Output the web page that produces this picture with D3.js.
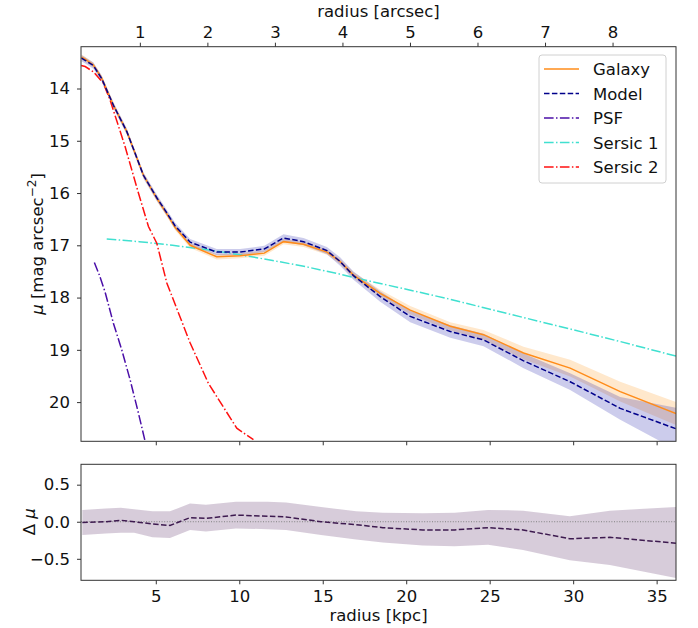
<!DOCTYPE html>
<html>
<head>
<meta charset="utf-8">
<script src="https://cdn.jsdelivr.net/npm/d3@7"></script>
<style>
  body { margin: 0; background: #fff; }
  text { font-family: "DejaVu Sans", sans-serif; }
</style>
</head>
<body>
<svg id="chart" width="698" height="628"></svg>
<script>
// radius grid of the galaxy / model profiles [kpc]
const radii     = [0.55, 0.77, 1.26, 1.76, 2.46, 3.26, 4.26, 5.06, 5.66, 6.16, 7.06, 8.65, 10.05, 11.5, 12.65, 13.85, 15.25, 16.04, 16.84, 18.44, 20.24, 22.64, 24.63, 27.03, 29.82, 32.82, 36.16];
const galaxyMu  = [13.40, 13.44, 13.55, 13.80, 14.32, 14.82, 15.66, 16.10, 16.40, 16.66, 17.00, 17.22, 17.20, 17.15, 16.93, 16.98, 17.13, 17.31, 17.57, 17.92, 18.24, 18.55, 18.71, 19.06, 19.35, 19.80, 20.22];
const galaxyErr = [0.05, 0.05, 0.05, 0.05, 0.05, 0.05, 0.05, 0.05, 0.05, 0.05, 0.05, 0.05, 0.05, 0.05, 0.05, 0.05, 0.05, 0.05, 0.06, 0.07, 0.08, 0.08, 0.09, 0.12, 0.16, 0.19, 0.22];
const modelMu   = [13.42, 13.46, 13.56, 13.81, 14.32, 14.82, 15.66, 16.09, 16.38, 16.63, 16.94, 17.13, 17.13, 17.07, 16.86, 16.93, 17.10, 17.31, 17.58, 17.98, 18.36, 18.65, 18.81, 19.21, 19.61, 20.12, 20.51];
const modelErr  = [0.06, 0.06, 0.06, 0.06, 0.06, 0.06, 0.06, 0.06, 0.06, 0.06, 0.06, 0.06, 0.06, 0.06, 0.07, 0.07, 0.07, 0.08, 0.08, 0.10, 0.11, 0.12, 0.12, 0.14, 0.16, 0.22, 0.40];

// components
const psfR      = [1.32, 1.62, 1.96, 2.46, 2.96, 3.46, 3.96, 4.36, 4.60];
const psfMu     = [17.33, 17.57, 17.89, 18.49, 19.00, 19.57, 20.21, 20.75, 21.20];
const sersic1R  = [2.06, 4.0, 6.0, 8.0, 10.0, 12.0, 14.0, 16.0, 18.0, 20.0, 22.6, 24.6, 27.0, 29.8, 32.8, 36.16];
const sersic1Mu = [16.88, 16.93, 17.00, 17.08, 17.18, 17.29, 17.41, 17.55, 17.70, 17.84, 18.03, 18.19, 18.38, 18.60, 18.84, 19.12];
const sersic2R  = [0.53, 0.77, 1.26, 1.86, 2.26, 3.16, 3.96, 4.56, 5.06, 5.66, 7.06, 8.15, 9.85, 10.85];
const sersic2Mu = [13.56, 13.58, 13.68, 13.90, 14.22, 15.11, 16.00, 16.64, 16.96, 17.72, 18.87, 19.64, 20.50, 20.72];

// residuals (galaxy - model)
const resR  = [0.6, 2.0, 2.9, 3.7, 4.8, 5.85, 7.05, 8.0, 9.8, 11.7, 12.8, 14.9, 17.0, 18.6, 21.0, 22.9, 24.9, 27.0, 29.8, 32.2, 36.16];
const resMu = [-0.01, 0.0, 0.02, 0.0, -0.03, -0.05, 0.055, 0.045, 0.09, 0.075, 0.065, 0.0, -0.04, -0.08, -0.11, -0.11, -0.08, -0.11, -0.23, -0.21, -0.29];
const resHi = [0.16, 0.18, 0.19, 0.17, 0.14, 0.14, 0.245, 0.23, 0.27, 0.27, 0.26, 0.2, 0.14, 0.12, 0.115, 0.12, 0.16, 0.15, 0.075, 0.15, 0.2];
const resLo = [-0.18, -0.16, -0.15, -0.15, -0.21, -0.22, -0.11, -0.13, -0.09, -0.10, -0.11, -0.18, -0.24, -0.28, -0.32, -0.33, -0.31, -0.38, -0.52, -0.585, -0.76];

// ticks
const muTicks = [14, 15, 16, 17, 18, 19, 20];
const kpcTicks = [5, 10, 15, 20, 25, 30, 35];
const arcsecTicks = [1, 2, 3, 4, 5, 6, 7, 8];
const resTicks = [0.5, 0.0, -0.5];
const kpcPerArcsec = 4.045;

const legendItems = [
  { label: "Galaxy",   color: "#ff8c1a", dash: null },
  { label: "Model",    color: "#00008b", dash: "5.5,2.4" },
  { label: "PSF",      color: "#4b0fa8", dash: "9.6,2.4,1.5,2.4" },
  { label: "Sersic 1", color: "#40e0d0", dash: "9.6,2.4,1.5,2.4" },
  { label: "Sersic 2", color: "#ff1010", dash: "9.6,2.4,1.5,2.4" }
];

const FS = "16.5px";
const svg = d3.select("#chart");
const L = 81, R = 676, T1 = 46.7, B1 = 441.3, T2 = 464.3, B2 = 580.3;

const x = d3.scaleLinear().domain([0.52, 36.16]).range([L, R]);
const xTop = d3.scaleLinear().domain([0.52 / kpcPerArcsec, 36.16 / kpcPerArcsec]).range([L, R]);
const y = d3.scaleLinear().domain([13.2, 20.75]).range([T1, B1]);
const yRes = d3.scaleLinear().domain([0.775, -0.79]).range([T2, B2]);

svg.append("clipPath").attr("id", "clipTop")
  .append("rect").attr("x", L).attr("y", T1).attr("width", R - L).attr("height", B1 - T1);
svg.append("clipPath").attr("id", "clipBot")
  .append("rect").attr("x", L).attr("y", T2).attr("width", R - L).attr("height", B2 - T2);

const gTop = svg.append("g").attr("clip-path", "url(#clipTop)");

function band(rs, mid, err) {
  return d3.area()
    .x((d, i) => x(rs[i]))
    .y0((d, i) => y(mid[i] - err[i]))
    .y1((d, i) => y(mid[i] + err[i]))(rs);
}
function line(rs, vals, yScale) {
  return d3.line().x((d, i) => x(rs[i])).y((d, i) => yScale(vals[i]))(rs);
}

// error bands
gTop.append("path").attr("d", band(radii, galaxyMu, galaxyErr))
  .attr("fill", "#ff8c00").attr("fill-opacity", 0.2);
gTop.append("path").attr("d", band(radii, modelMu, modelErr))
  .attr("fill", "#0000a0").attr("fill-opacity", 0.2);

// curves
gTop.append("path").attr("d", line(psfR, psfMu, y))
  .attr("fill", "none").attr("stroke", legendItems[2].color).attr("stroke-width", 1.5)
  .attr("stroke-dasharray", legendItems[2].dash);
gTop.append("path").attr("d", line(sersic1R, sersic1Mu, y))
  .attr("fill", "none").attr("stroke", legendItems[3].color).attr("stroke-width", 1.5)
  .attr("stroke-dasharray", legendItems[3].dash);
gTop.append("path").attr("d", line(sersic2R, sersic2Mu, y))
  .attr("fill", "none").attr("stroke", legendItems[4].color).attr("stroke-width", 1.5)
  .attr("stroke-dasharray", legendItems[4].dash);
gTop.append("path").attr("d", line(radii, galaxyMu, y))
  .attr("fill", "none").attr("stroke", legendItems[0].color).attr("stroke-width", 1.5);
gTop.append("path").attr("d", line(radii, modelMu, y))
  .attr("fill", "none").attr("stroke", legendItems[1].color).attr("stroke-width", 1.5)
  .attr("stroke-dasharray", legendItems[1].dash);

// residual panel
const gBot = svg.append("g").attr("clip-path", "url(#clipBot)");
gBot.append("path")
  .attr("d", d3.area().x((d, i) => x(resR[i])).y0((d, i) => yRes(resLo[i])).y1((d, i) => yRes(resHi[i]))(resR))
  .attr("fill", "#cdbfd1").attr("fill-opacity", 0.8);
gBot.append("line").attr("x1", L).attr("x2", R).attr("y1", yRes(0)).attr("y2", yRes(0))
  .attr("stroke", "#808080").attr("stroke-width", 1).attr("stroke-dasharray", "1,1.6");
gBot.append("path").attr("d", line(resR, resMu, yRes))
  .attr("fill", "none").attr("stroke", "#3d1a4f").attr("stroke-width", 1.5)
  .attr("stroke-dasharray", "5.5,2.4");

// axes
function styleAxis(g) {
  g.select(".domain").remove();
  g.selectAll(".tick line").attr("stroke", "#333");
  g.selectAll(".tick text").attr("fill", "#111").style("font-size", FS)
    .style("font-family", "'DejaVu Sans', sans-serif");
}
const fmtMinus = d => d3.format(".1f")(d).replace("-", "\u2212");

svg.append("g").attr("transform", `translate(${L},0)`)
  .call(d3.axisLeft(y).tickValues(muTicks).tickSize(4).tickPadding(7)).call(styleAxis);
svg.append("g").attr("transform", `translate(0,${B1})`)
  .call(d3.axisBottom(x).tickValues(kpcTicks).tickSize(4).tickFormat("")).call(styleAxis);
svg.append("g").attr("transform", `translate(0,${T1})`)
  .call(d3.axisTop(xTop).tickValues(arcsecTicks).tickSize(4).tickPadding(5)).call(styleAxis);
svg.append("g").attr("transform", `translate(${L},0)`)
  .call(d3.axisLeft(yRes).tickValues(resTicks).tickSize(4).tickPadding(7).tickFormat(fmtMinus)).call(styleAxis);
svg.append("g").attr("transform", `translate(0,${B2})`)
  .call(d3.axisBottom(x).tickValues(kpcTicks).tickSize(4).tickPadding(6)).call(styleAxis);

// frames
[[T1, B1], [T2, B2]].forEach(([t, b]) => {
  svg.append("rect").attr("x", L).attr("y", t).attr("width", R - L).attr("height", b - t)
    .attr("fill", "none").attr("stroke", "#333").attr("stroke-width", 1);
});

// axis labels
svg.append("text").attr("x", (L + R) / 2).attr("y", 17).attr("text-anchor", "middle")
  .style("font-size", FS).attr("fill", "#111").text("radius [arcsec]");
svg.append("text").attr("x", (L + R) / 2).attr("y", 621).attr("text-anchor", "middle")
  .style("font-size", FS).attr("fill", "#111").text("radius [kpc]");

const yl = svg.append("text").attr("transform", `translate(43,${(T1 + B1) / 2}) rotate(-90)`)
  .attr("text-anchor", "middle").style("font-size", FS).attr("fill", "#111");
yl.append("tspan").style("font-style", "italic").text("\u03bc");
yl.append("tspan").text(" [mag arcsec");
yl.append("tspan").attr("dy", -7).style("font-size", "12px").text("\u22122");
yl.append("tspan").attr("dy", 7).text("]");

const rl = svg.append("text").attr("transform", `translate(35,${yRes(0)}) rotate(-90)`)
  .attr("text-anchor", "middle").style("font-size", FS).attr("fill", "#111");
rl.append("tspan").text("\u0394 ");
rl.append("tspan").style("font-style", "italic").text("\u03bc");

// legend
const lg = svg.append("g").attr("transform", "translate(539,55)");
lg.append("rect").attr("width", 127).attr("height", 128).attr("rx", 3)
  .attr("fill", "#fff").attr("fill-opacity", 0.8).attr("stroke", "#d0d0d0");
legendItems.forEach((d, i) => {
  const gy = 14 + i * 24.5;
  lg.append("line").attr("x1", 5).attr("x2", 40).attr("y1", gy).attr("y2", gy)
    .attr("stroke", d.color).attr("stroke-width", 1.5)
    .attr("stroke-dasharray", d.dash);
  lg.append("text").attr("x", 54).attr("y", gy + 6).style("font-size", FS)
    .attr("fill", "#111").text(d.label);
});
</script>
</body>
</html>
